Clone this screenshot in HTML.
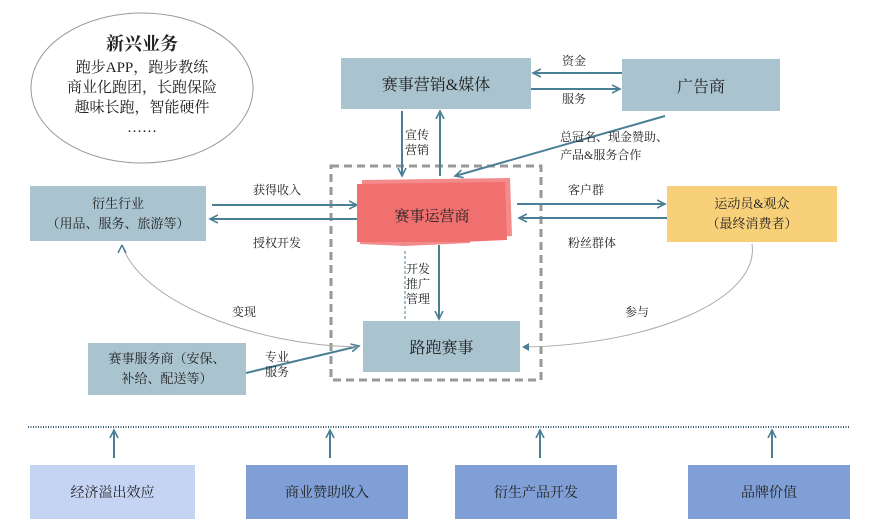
<!DOCTYPE html>
<html><head><meta charset="utf-8"><style>
body{margin:0;width:871px;height:529px;background:#fff;overflow:hidden;font-family:"Liberation Serif","Noto Serif CJK SC",serif;}
.b{position:absolute;display:flex;align-items:center;justify-content:center;text-align:center;color:#222;}
.t{position:absolute;font-size:12px;color:#222;line-height:15px;}
</style></head><body>
<svg width="871" height="529" style="position:absolute;left:0;top:0">
<defs><marker id="a" markerWidth="10" markerHeight="10" refX="8" refY="5" orient="auto" markerUnits="userSpaceOnUse"><path d="M0,1 L8,5 L0,9" fill="none" stroke="#4a7f95" stroke-width="1.6"/></marker></defs>
<ellipse cx="142" cy="88" rx="111" ry="75" fill="#fff" stroke="#999" stroke-width="1"/>
<rect x="331" y="166" width="210" height="214" fill="none" stroke="#999" stroke-width="3" stroke-dasharray="8,5"/>
<g stroke="#4a7f95" stroke-width="2" fill="none" marker-end="url(#a)">
<line x1="622" y1="73" x2="533" y2="73"/>
<line x1="531" y1="89" x2="620" y2="89"/>
<line x1="402" y1="111" x2="402" y2="176"/>
<line x1="440" y1="176" x2="440" y2="111"/>
<line x1="665" y1="116" x2="455" y2="176"/>
<line x1="212" y1="205" x2="357" y2="205"/>
<line x1="357" y1="219" x2="210" y2="219"/>
<line x1="517" y1="204" x2="665" y2="204"/>
<line x1="667" y1="218" x2="519" y2="218"/>
<line x1="439" y1="245" x2="439" y2="319"/>
<line x1="246" y1="373" x2="359" y2="346"/>
<line x1="114" y1="458" x2="114" y2="430"/>
<line x1="330" y1="458" x2="330" y2="430"/>
<line x1="540" y1="458" x2="540" y2="430"/>
<line x1="772" y1="458" x2="772" y2="430"/>
</g>
<line x1="405" y1="319" x2="405" y2="250" stroke="#4a7f95" stroke-width="1" stroke-dasharray="3,2"/>
<path d="M122,245 C140,300 250,345 358,347" fill="none" stroke="#aaa" stroke-width="1"/>
<path d="M122,245 l-4,8 M122,245 l4,8" stroke="#4a7f95" stroke-width="1.5"/>
<path d="M752,244 C760,300 650,345 524,347" fill="none" stroke="#aaa" stroke-width="1"/>
<path d="M522,347 l7,-4 l0,8z" fill="#4a7f95"/>
<line x1="28" y1="427" x2="850" y2="427" stroke="#3a5a70" stroke-width="2" stroke-dasharray="1,1.5"/>
<path d="M362,180 L510,178 L512,236 L470,238 L470,243 L405,246 L360,244 Z" fill="#ee5a5a" opacity=".7"/>
<path d="M357,184 L505,182 L507,240 L460,242 L357,242 Z" fill="#f07070"/>
</svg>
<div class="b" style="left:30px;top:30px;width:224px;flex-direction:column;font-size:15px;line-height:20px">
<div style="font-size:18px;font-weight:bold;line-height:28px">新兴业务</div>
<div>跑步APP，跑步教练</div><div>商业化跑团，长跑保险</div><div>趣味长跑，智能硬件</div><div>……</div></div>
<div class="b" style="left:341px;top:58px;width:190px;height:51px;background:#a9c3cf;font-size:16px">赛事营销&amp;媒体</div>
<div class="b" style="left:622px;top:59px;width:158px;height:52px;background:#a9c3cf;font-size:16px">广告商</div>
<div class="b" style="left:30px;top:186px;width:176px;height:55px;background:#a9c3cf;font-size:13px;line-height:20px">衍生行业<br>（用品、服务、旅游等）</div>
<div class="b" style="left:357px;top:190px;width:150px;height:50px;font-size:15px">赛事运营商</div>
<div class="b" style="left:667px;top:186px;width:170px;height:56px;background:#f8d07a;font-size:13px;line-height:20px">运动员&amp;观众<br>（最终消费者）</div>
<div class="b" style="left:363px;top:321px;width:157px;height:51px;background:#a9c3cf;font-size:16px">路跑赛事</div>
<div class="b" style="left:88px;top:343px;width:158px;height:52px;background:#a9c3cf;font-size:13px;line-height:20px">赛事服务商（安保、<br>补给、配送等）</div>
<div class="b" style="left:30px;top:465px;width:165px;height:54px;background:#c6d4f4;font-size:14px">经济溢出效应</div>
<div class="b" style="left:246px;top:465px;width:162px;height:54px;background:#809fd6;font-size:14px">商业赞助收入</div>
<div class="b" style="left:455px;top:465px;width:162px;height:54px;background:#809fd6;font-size:14px">衍生产品开发</div>
<div class="b" style="left:688px;top:465px;width:162px;height:54px;background:#809fd6;font-size:14px">品牌价值</div>
<div class="t" style="left:562px;top:54px">资金</div>
<div class="t" style="left:562px;top:92px">服务</div>
<div class="t" style="left:405px;top:128px">宣传<br>营销</div>
<div class="t" style="left:560px;top:128px;line-height:18px">总冠名、现金赞助、<br>产品&amp;服务合作</div>
<div class="t" style="left:253px;top:183px">获得收入</div>
<div class="t" style="left:253px;top:236px">授权开发</div>
<div class="t" style="left:568px;top:183px">客户群</div>
<div class="t" style="left:568px;top:236px">粉丝群体</div>
<div class="t" style="left:406px;top:262px">开发<br>推广<br>管理</div>
<div class="t" style="left:232px;top:305px">变现</div>
<div class="t" style="left:625px;top:305px">参与</div>
<div class="t" style="left:265px;top:350px">专业<br>服务</div>
</body></html>
